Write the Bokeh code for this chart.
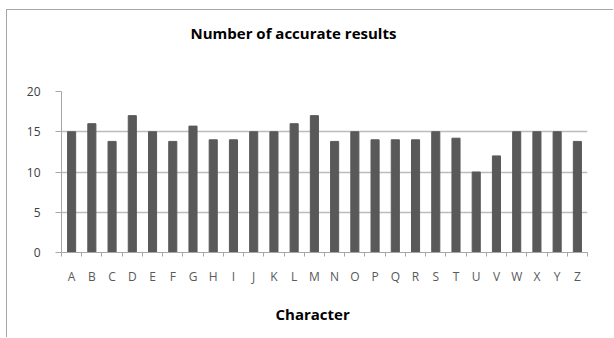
from bokeh.plotting import figure
from bokeh.models import Range1d, FixedTicker, Title, ColumnDataSource
from bokeh.embed import file_html
from bokeh.resources import INLINE

# Data
characters = list("ABCDEFGHIJKLMNOPQRSTUVWXYZ")
accurate = [15, 16, 13.8, 17, 15, 13.8, 15.7, 14, 14, 15, 15, 16, 17,
            13.8, 15, 14, 14, 14, 15, 14.2, 10, 12, 15, 15, 15, 13.8]
y_ticks = [0, 5, 10, 15, 20]

# chart area starts a little in from the page corner and is framed on the left/top
BOX_L, BOX_T, BORDER = 6, 9, 1
W, H = 614 - BOX_L - BORDER, 338 - BOX_T - BORDER
X0, Y0 = BOX_L + BORDER, BOX_T + BORDER
FRAME_L, FRAME_R, FRAME_T, FRAME_B = 61 - X0, 587 - X0, 91 - Y0, 253 - Y0

positions = [i + 0.5 for i in range(len(characters))]
source = ColumnDataSource(dict(x=positions, top=accurate))

p = figure(width=W, height=H, output_backend="svg", toolbar_location=None,
           x_range=Range1d(0, len(characters)), y_range=Range1d(0, 20),
           min_border_left=FRAME_L, min_border_right=W - FRAME_R,
           min_border_top=FRAME_T, min_border_bottom=H - FRAME_B,
           margin=(BOX_T, 0, 0, BOX_L),
           styles={"border-left": f"{BORDER}px solid #a6a6a6",
                   "border-top": f"{BORDER}px solid #a6a6a6"})
p.outline_line_color = None
p.background_fill_color = "white"
p.border_fill_color = "white"

p.vbar(x="x", top="top", width=0.4, source=source, color="#595959")

# x axis: letters centred on each category, tick marks between categories
p.xaxis.ticker = FixedTicker(ticks=positions,
                             minor_ticks=list(range(len(characters) + 1)))
p.xaxis.major_label_overrides = {pos: c for pos, c in zip(positions, characters)}
p.xaxis.major_tick_line_color = None
p.xaxis.minor_tick_in = 0
p.xaxis.minor_tick_out = 4
p.xaxis.minor_tick_line_color = "#a6a6a6"
p.xaxis.axis_line_color = "#a6a6a6"
p.xaxis.major_label_standoff = 9
p.xaxis.major_label_text_font = "Open Sans"
p.xaxis.major_label_text_font_size = "12px"
p.xaxis.major_label_text_color = "#595959"

# y axis
p.yaxis.ticker = FixedTicker(ticks=y_ticks)
p.yaxis.minor_tick_line_color = None
p.yaxis.major_tick_in = 0
p.yaxis.major_tick_out = 6
p.yaxis.major_tick_line_color = "#a6a6a6"
p.yaxis.axis_line_color = "#a6a6a6"
p.yaxis.major_label_standoff = 15
p.yaxis.major_label_text_font = "Open Sans"
p.yaxis.major_label_text_font_size = "12px"
p.yaxis.major_label_text_color = "#404040"

p.xgrid.grid_line_color = None
p.ygrid.grid_line_color = "#bcbcbc"
p.ygrid.grid_line_width = 1.5

# blank spacer between plot and chart title, then the title itself
p.add_layout(Title(text=" ", text_font_size="1px", standoff=46), "above")
p.add_layout(Title(text="Number of accurate results", align="left", offset=190 - 61,
                   standoff=0, text_font="Open Sans", text_font_size="15px",
                   text_font_style="bold", text_color="#000000"), "above")
# category-axis title
p.add_layout(Title(text="Character", align="left", offset=275 - 61,
                   standoff=29, text_font="Open Sans", text_font_size="15px",
                   text_font_style="bold", text_color="#000000"), "below")

open("out.html", "w").write(file_html(p, INLINE))
